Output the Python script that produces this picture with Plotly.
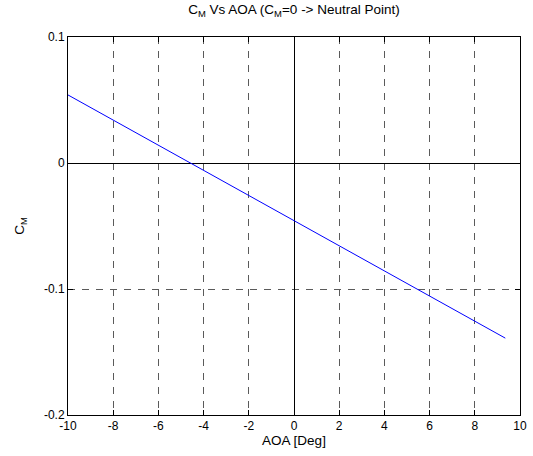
import plotly.graph_objects as go

# Data
aoa = [-10, -9, -8, -7, -6, -5, -4, -3, -2, -1, 0, 1, 2, 3, 4, 5, 6, 7, 8, 9, 9.35]
cm = [0.054, 0.044, 0.034, 0.024, 0.0145, 0.0045, -0.0055, -0.0155, -0.0255,
      -0.0355, -0.0455, -0.0555, -0.0655, -0.0755, -0.0855, -0.0955, -0.1055,
      -0.1155, -0.1255, -0.1355, -0.139]

x_ticks = [-10, -8, -6, -4, -2, 0, 2, 4, 6, 8, 10]
x_labels = ["-10", "-8", "-6", "-4", "-2", "0", "2", "4", "6", "8", "10"]
y_ticks = [-0.2, -0.1, 0, 0.1]
y_labels = ["-0.2", "-0.1", "0", "0.1"]

fig = go.Figure()
fig.add_trace(go.Scatter(x=aoa, y=cm, mode="lines",
                         line=dict(color="rgb(0,0,255)", width=1),
                         showlegend=False))

fam = "Liberation Sans, Arial, sans-serif"
tick_font = dict(family=fam, size=12, color="black")
label_font = dict(family=fam, size=13.5, color="black")
axis_common = dict(
    automargin=False,
    showline=True, linecolor="black", linewidth=1, mirror="ticks",
    ticks="inside", ticklen=5, tickcolor="black",
    showgrid=True, gridcolor="rgb(90,90,90)", gridwidth=1, griddash="7px,7px",
    zeroline=True, zerolinecolor="black", zerolinewidth=1,
    tickfont=tick_font,
)

fig.update_layout(
    template="none",
    width=533, height=456,
    margin=dict(l=68, r=13, t=37, b=41),
    paper_bgcolor="white", plot_bgcolor="white",
    font=tick_font,
    title=dict(text="C<sub>M</sub> Vs AOA (C<sub>M</sub>=0 -> Neutral Point)",
               xref="paper", x=0.5, xanchor="center",
               yref="container", y=0.99, yanchor="top",
               font=label_font),
    xaxis=dict(range=[-10, 10], tickvals=x_ticks, ticktext=x_labels,
               title=dict(text="AOA [Deg]", standoff=0, font=label_font),
               **axis_common),
    yaxis=dict(range=[-0.2, 0.1], tickvals=y_ticks, ticktext=y_labels,
               ticklabelstandoff=0,
               title=dict(text="C<sub>M</sub>", standoff=16, font=label_font),
               **axis_common),
)

fig.write_html("out.html",
               config={"displayModeBar": False},
               post_script="document.body.style.margin='0';document.body.style.overflow='hidden';")
